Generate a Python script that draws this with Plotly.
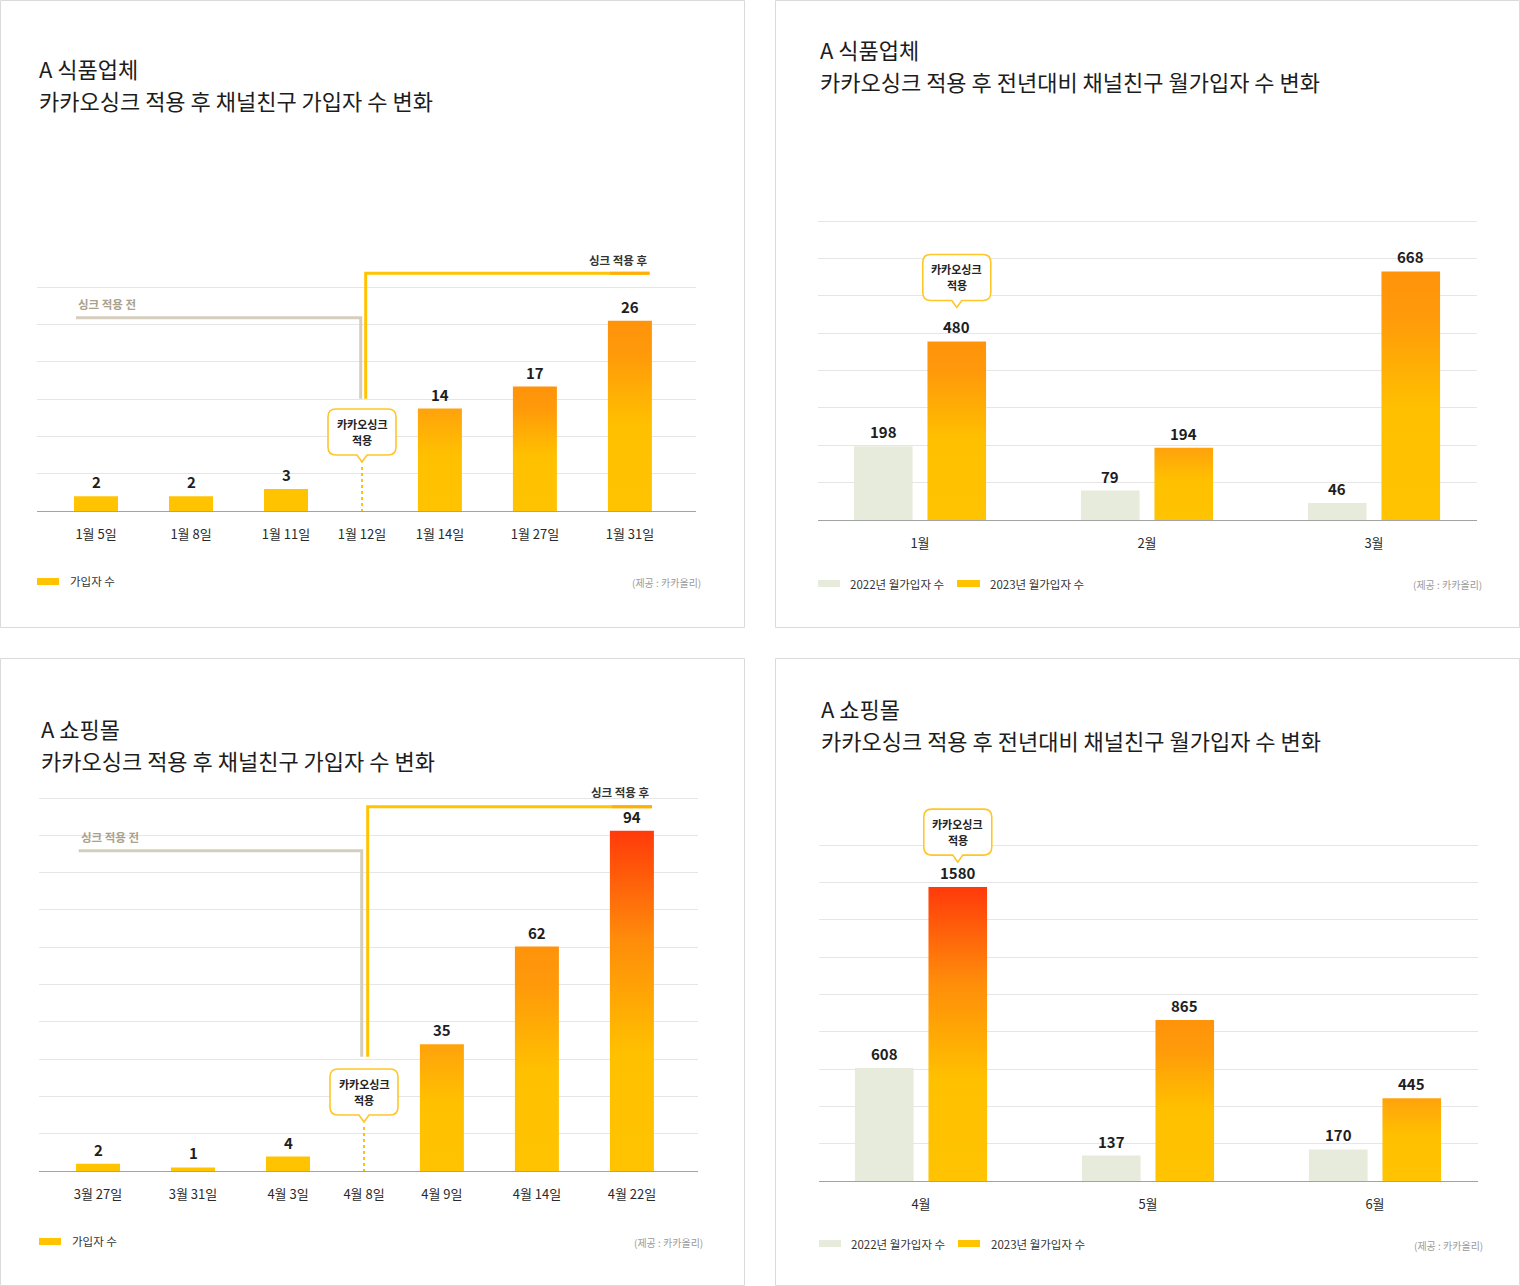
import plotly.graph_objects as go

W, H = 1520, 1286

# ---------------- data ----------------
food_dates = ["1월 5일", "1월 8일", "1월 11일", "1월 12일", "1월 14일", "1월 27일", "1월 31일"]
food_signups = [2, 2, 3, None, 14, 17, 26]          # 1월 12일 = 카카오싱크 적용일 (no bar)
mall_dates = ["3월 27일", "3월 31일", "4월 3일", "4월 8일", "4월 9일", "4월 14일", "4월 22일"]
mall_signups = [2, 1, 4, None, 35, 62, 94]          # 4월 8일 = 카카오싱크 적용일 (no bar)

food_months = ["1월", "2월", "3월"]
food_2022 = [198, 79, 46]
food_2023 = [480, 194, 668]
mall_months = ["4월", "5월", "6월"]
mall_2022 = [608, 137, 170]
mall_2023 = [1580, 865, 445]

series_names = ["2022년 월가입자 수", "2023년 월가입자 수"]
daily_series_name = "가입자 수"
source_text = "(제공 : 카카올리)"

# ---------------- styles ----------------
FONT = "Noto Sans CJK KR"
YEL = "#FFC300"
PALE = "#E7EBDB"
GRID = "#E6E6E6"
BORDER = "#DADADA"
CS = {
    "solid": YEL,
    "soft": [[0, "#FFC300"], [0.55, "#FFC000"], [1, "#FFA20C"]],
    "orange": [[0, "#FFC300"], [0.45, "#FFC000"], [0.82, "#FF9A0A"], [1, "#FF930A"]],
    "red": [[0, "#FFC300"], [0.35, "#FFC000"], [0.68, "#FF8C0A"], [1, "#FF3A0A"]],
}
food_daily_style = ["solid", "solid", "solid", None, "soft", "orange", "orange"]
mall_daily_style = ["solid", "solid", "solid", None, "soft", "orange", "red"]
food_month_style = ["orange", "soft", "orange"]
mall_month_style = ["red", "orange", "soft"]

day_slots = [0, 1, 2, 2.8, 3.62, 4.62, 5.62]   # layout positions of the date slots
month_slots = [0, 1, 2]
SYNC_IDX = 3
HEAD = 1.04   # headroom so the top gridline sits inside the plot area


def PX(x):
    return x / W


def PY(y):
    return 1 - y / H


# panel geometry (pixels)
panels = [
    dict(sfx="", x0=37, x1=696, ytop=287, ybase=511, ngrid=6, ppu=7.32, unit=95, c0=96),
    dict(sfx="2", x0=818, x1=1477, ytop=221, ybase=520, ngrid=8, ppu=0.372, unit=227, c0=920, tipoff=34),
    dict(sfx="3", x0=39, x1=698, ytop=798, ybase=1171, ngrid=10, ppu=3.62, unit=95, c0=98),
    dict(sfx="4", x0=819, x1=1478, ytop=845, ybase=1181, ngrid=9, ppu=0.186, unit=227, c0=921, tipoff=25),
]

fig = go.Figure()
layout = dict(
    width=W, height=H, margin=dict(l=0, r=0, t=0, b=0),
    paper_bgcolor="white", plot_bgcolor="white", showlegend=False,
    font=dict(family=FONT, color="#222"),
)
annotations = []
shapes = []

for p in panels:
    ymax = (p["ybase"] - p["ytop"]) / p["ppu"]
    step = ymax / p["ngrid"]
    p["ymax"] = ymax
    xr = [(p["x0"] - p["c0"]) / p["unit"], (p["x1"] - p["c0"]) / p["unit"]]
    sfx = p["sfx"]
    top_px = p["ybase"] - (p["ybase"] - p["ytop"]) * HEAD
    layout["xaxis" + sfx] = dict(
        domain=[PX(p["x0"]), PX(p["x1"])], range=xr, anchor="y" + sfx,
        showgrid=False, zeroline=False, showline=True, linecolor="#A3A3A3", linewidth=1,
        ticks="", ticklabelstandoff=11, tickfont=dict(family=FONT, size=13, color="#2A2A2A"),
        fixedrange=True,
    )
    layout["yaxis" + sfx] = dict(
        domain=[PY(p["ybase"]), PY(top_px)], range=[0, ymax * HEAD], anchor="x" + sfx,
        tickvals=[step * k for k in range(1, p["ngrid"] + 1)], showticklabels=False,
        showgrid=True, gridcolor=GRID, gridwidth=1, zeroline=False, showline=False,
        fixedrange=True,
    )


def add_bar(xc, hw, v, style, sfx, color=None):
    xs = [xc - hw, xc + hw, xc + hw, xc - hw, xc - hw]
    ys = [0, 0, v, v, 0]
    kw = dict(x=xs, y=ys, mode="lines", fill="toself",
              line=dict(width=0, color="rgba(0,0,0,0)"),
              hoverinfo="skip", showlegend=False,
              xaxis="x" + sfx, yaxis="y" + sfx)
    fill = color if color else CS[style]
    if isinstance(fill, str):
        kw["fillcolor"] = fill
    else:
        kw["fillgradient"] = dict(type="vertical", colorscale=fill)
    fig.add_trace(go.Scatter(**kw))


def value_label(x, v, sfx):
    annotations.append(dict(
        x=x, y=v, xref="x" + sfx, yref="y" + sfx, text=str(v), showarrow=False,
        yanchor="bottom", yshift=2,
        font=dict(family=FONT, size=15, color="#1E1E1E", weight="bold")))


def text(x, y, s, size, color="#222", bold=False, xanchor="left", align="left"):
    f = dict(family=FONT, size=size, color=color)
    if bold:
        f["weight"] = "bold"
    annotations.append(dict(x=PX(x), y=PY(y), xref="paper", yref="paper", text=s,
                            showarrow=False, xanchor=xanchor, yanchor="middle", font=f,
                            align=align))


def callout(cx, tip, w=68, h=46, r=8, pw=5, ph=7):
    bot = tip - ph
    top = bot - h
    l, rr = cx - w / 2, cx + w / 2
    pts = [("M", l + r, top), ("L", rr - r, top), ("Q", rr, top, rr, top + r),
           ("L", rr, bot - r), ("Q", rr, bot, rr - r, bot), ("L", cx + pw, bot),
           ("L", cx, tip), ("L", cx - pw, bot), ("L", l + r, bot),
           ("Q", l, bot, l, bot - r), ("L", l, top + r), ("Q", l, top, l + r, top)]
    path = ""
    for pt in pts:
        cmd = pt[0]
        coords = pt[1:]
        segs = []
        for i in range(0, len(coords), 2):
            segs.append(f"{PX(coords[i]):.6f},{PY(coords[i+1]):.6f}")
        path += cmd + " " + " ".join(segs) + " "
    path += "Z"
    shapes.append(dict(type="path", path=path, xref="paper", yref="paper",
                       fillcolor="white", line=dict(color="#FFC629", width=1.6), layer="above"))
    mid = (top + bot) / 2
    text(cx, mid - 8, "카카오싱크", 11, color="#222", bold=True, xanchor="center")
    text(cx, mid + 8, "적용", 11, color="#222", bold=True, xanchor="center")


def polyline(pts, color, width=3):
    path = "M " + " L ".join(f"{PX(x):.6f},{PY(y):.6f}" for x, y in pts)
    shapes.append(dict(type="path", path=path, xref="paper", yref="paper",
                       line=dict(color=color, width=width), fillcolor="rgba(0,0,0,0)"))


def rect(x0, y0, x1, y1, fill=None, line=None):
    d = dict(type="rect", xref="paper", yref="paper", x0=PX(x0), x1=PX(x1), y0=PY(y1), y1=PY(y0))
    d["fillcolor"] = fill if fill else "rgba(0,0,0,0)"
    d["line"] = dict(color=line, width=1) if line else dict(width=0)
    shapes.append(d)


# ---------------- panel borders ----------------
rect(0.5, 0.5, 744.5, 627.5, line=BORDER)
rect(775.5, 0.5, 1519.5, 627.5, line=BORDER)
rect(0.5, 658.5, 744.5, 1285.5, line=BORDER)
rect(775.5, 658.5, 1519.5, 1285.5, line=BORDER)

# ---------------- daily panels (1, 3) ----------------
daily = [
    (panels[0], food_dates, food_signups, food_daily_style),
    (panels[2], mall_dates, mall_signups, mall_daily_style),
]
for p, dates, vals, styles in daily:
    sfx = p["sfx"]
    hw = 22 / p["unit"]
    for i, v in enumerate(vals):
        if v is None:
            continue
        add_bar(day_slots[i], hw, v, styles[i], sfx)
        value_label(day_slots[i], v, sfx)
    layout["xaxis" + sfx]["tickvals"] = day_slots
    layout["xaxis" + sfx]["ticktext"] = dates
    # sync marker
    cx = p["c0"] + day_slots[SYNC_IDX] * p["unit"]
    tip = p["ybase"] - 49
    callout(cx, tip)
    shapes.append(dict(type="line", xref="paper", yref="paper",
                       x0=PX(cx), x1=PX(cx), y0=PY(tip + 5), y1=PY(p["ybase"]),
                       line=dict(color=YEL, width=2, dash="dot")))

TITLE = 22
TCOL = "#1C1C1C"


def title(x, ymid, company, subtitle):
    text(x, ymid - 16, company, TITLE, color=TCOL)
    text(x, ymid + 16, subtitle, TITLE, color=TCOL)


# panel 1 decorations
polyline([(76, 317.7), (360.7, 317.7), (360.7, 398.7)], "#D5CEBD")
polyline([(365.7, 398.7), (365.7, 273.3), (649.5, 273.3)], YEL)
polyline([(610, 273.3), (649.5, 273.3)], "#FFAE0A")
text(76, 304, "싱크 적용 전", 11.5, color="#A9A18C", bold=True)
text(650, 260, "싱크 적용 후", 11.5, color="#333", bold=True, xanchor="right")
title(37, 84, "A 식품업체", "카카오싱크 적용 후 채널친구 가입자 수 변화")
rect(37, 578, 59, 585, fill=YEL)
text(68, 581, daily_series_name, 11.5, color="#333")
text(703, 582, source_text, 10, color="#9A9A9A", xanchor="right")

# panel 3 decorations
polyline([(78.7, 850.7), (361.7, 850.7), (361.7, 1056.7)], "#D5CEBD")
polyline([(367.7, 1056.7), (367.7, 806.7), (652, 806.7)], YEL)
polyline([(612, 806.7), (652, 806.7)], "#FFAE0A")
text(78.7, 837, "싱크 적용 전", 11.5, color="#A9A18C", bold=True)
text(652, 792, "싱크 적용 후", 11.5, color="#333", bold=True, xanchor="right")
title(39, 744, "A 쇼핑몰", "카카오싱크 적용 후 채널친구 가입자 수 변화")
rect(39, 1238, 61, 1245, fill=YEL)
text(70, 1241, daily_series_name, 11.5, color="#333")
text(705, 1242, source_text, 10, color="#9A9A9A", xanchor="right")

# ---------------- monthly panels (2, 4) ----------------
monthly = [
    (panels[1], food_months, food_2022, food_2023, food_month_style),
    (panels[3], mall_months, mall_2022, mall_2023, mall_month_style),
]
OFF = 0.162
for p, months, v22, v23, styles in monthly:
    sfx = p["sfx"]
    hw = 29.3 / p["unit"]
    for i in range(len(months)):
        add_bar(month_slots[i] - OFF, hw, v22[i], "solid", sfx, color=PALE)
        value_label(month_slots[i] - OFF, v22[i], sfx)
        add_bar(month_slots[i] + OFF, hw, v23[i], styles[i], sfx)
        value_label(month_slots[i] + OFF, v23[i], sfx)
    layout["xaxis" + sfx]["tickvals"] = month_slots
    layout["xaxis" + sfx]["ticktext"] = months
    # callout above first 2023 bar (sync month)
    cx = p["c0"] + (month_slots[0] + OFF) * p["unit"]
    top_px = p["ybase"] - v23[0] * p["ppu"]
    callout(cx, top_px - p["tipoff"])

# panel 2 texts
title(818, 65, "A 식품업체", "카카오싱크 적용 후 전년대비 채널친구 월가입자 수 변화")
rect(818, 580, 840, 587, fill=PALE)
text(848, 583.5, series_names[0], 11.5, color="#333")
rect(957, 580, 980, 587, fill=YEL)
text(988, 583.5, series_names[1], 11.5, color="#333")
text(1484, 584, source_text, 10, color="#9A9A9A", xanchor="right")

# panel 4 texts
title(819, 724, "A 쇼핑몰", "카카오싱크 적용 후 전년대비 채널친구 월가입자 수 변화")
rect(819, 1240, 841, 1247, fill=PALE)
text(849, 1243.5, series_names[0], 11.5, color="#333")
rect(958, 1240, 980, 1247, fill=YEL)
text(989, 1243.5, series_names[1], 11.5, color="#333")
text(1485, 1245, source_text, 10, color="#9A9A9A", xanchor="right")

layout["annotations"] = annotations
layout["shapes"] = shapes
fig.update_layout(**layout)
fig.write_html("out.html", config={"displayModeBar": False})
